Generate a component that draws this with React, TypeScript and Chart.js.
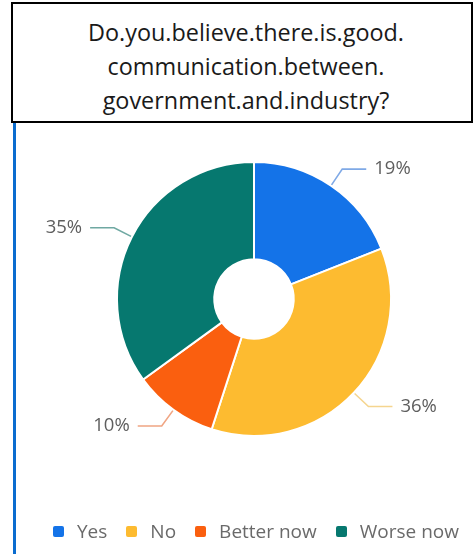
import React, { useEffect, useRef } from "react";
import { Chart, registerables } from "chart.js";

Chart.register(...registerables);

const titleLines = ["Do.you.believe.there.is.good.", "communication.between.", "government.and.industry?"];
const categories = ["Yes", "No", "Better now", "Worse now"];
const values = [19, 36, 10, 35];
const colors = ["#1473E8", "#FDBB30", "#FA5F0F", "#06786F"];
const lineColors = ["#7FA9E6", "#F5D58F", "#F0A583", "#6FA8A2"];

const leaderPlugin = {
  id: "leaders",
  afterDatasetsDraw(chart: any) {
    const ctx = chart.ctx;
    const meta = chart.getDatasetMeta(0);
    ctx.save();
    meta.data.forEach((arc: any, i: number) => {
      const { x, y, startAngle, endAngle, outerRadius } = arc.getProps(
        ["x", "y", "startAngle", "endAngle", "outerRadius"],
        true
      );
      const a = (startAngle + endAngle) / 2;
      const c = Math.cos(a);
      const s = Math.sin(a);
      const x0 = x + (outerRadius + 1) * c;
      const y0 = y + (outerRadius + 1) * s;
      const x1 = x + (outerRadius + 20) * c;
      const y1 = y + (outerRadius + 20) * s;
      const dir = c >= 0 ? 1 : -1;
      const x2 = x1 + dir * 24;
      ctx.strokeStyle = lineColors[i];
      ctx.lineWidth = 1.6;
      ctx.beginPath();
      ctx.moveTo(x0, y0);
      ctx.lineTo(x1, y1);
      ctx.lineTo(x2, y1);
      ctx.stroke();
      ctx.fillStyle = "#5e5e5e";
      ctx.font = "18.5px 'Open Sans'";
      ctx.textBaseline = "middle";
      ctx.textAlign = dir > 0 ? "left" : "right";
      ctx.fillText(values[i] + "%", x2 + dir * 8, y1);
    });
    ctx.restore();
  },
};

export default function App() {
  const ref = useRef<HTMLCanvasElement | null>(null);

  useEffect(() => {
    if (!ref.current) return;
    const chart = new Chart(ref.current, {
      type: "doughnut",
      data: {
        labels: categories,
        datasets: [
          {
            data: values,
            backgroundColor: colors,
            borderColor: "#ffffff",
            borderWidth: 2,
            hoverOffset: 0,
          },
        ],
      },
      options: {
        responsive: false,
        animation: false,
        cutout: "29%",
        layout: { padding: { left: 101, top: 39, right: 83, bottom: 117 } },
        plugins: {
          legend: { display: false },
          tooltip: { enabled: false },
        },
      },
      plugins: [leaderPlugin],
    });
    return () => chart.destroy();
  }, []);

  return (
    <div
      style={{
        position: "fixed",
        left: 0,
        top: 0,
        width: 475,
        height: 554,
        background: "#ffffff",
        overflow: "hidden",
        fontFamily: "'Open Sans', sans-serif",
      }}
    >
      <div
        style={{
          position: "absolute",
          left: 11,
          top: 2,
          width: 462,
          height: 121,
          boxSizing: "border-box",
          border: "2px solid #000",
          overflow: "hidden",
          paddingTop: 11,
          paddingLeft: 8,
          textAlign: "center",
          fontSize: 23.4,
          lineHeight: "34px",
          color: "#1a1a1a",
        }}
      >
        {titleLines.map((t) => (
          <div key={t}>{t}</div>
        ))}
      </div>
      <div
        style={{
          position: "absolute",
          left: 13,
          top: 123,
          width: 2.5,
          height: 431,
          background: "#0A6CCF",
        }}
      />
      <div style={{ position: "absolute", left: 15, top: 122, width: 460, height: 432 }}>
        <canvas ref={ref} width={460} height={432} style={{ display: "block" }} />
      </div>
      <div
        style={{
          position: "absolute",
          left: 53,
          top: 518,
          height: 26,
          display: "flex",
          alignItems: "center",
          fontSize: 19,
          color: "#6a6a6a",
          whiteSpace: "nowrap",
        }}
      >
        {categories.map((c, i) => (
          <div key={c} style={{ display: "flex", alignItems: "center", marginRight: 19 }}>
            <span
              style={{
                display: "inline-block",
                width: 11,
                height: 11,
                borderRadius: 2,
                background: colors[i],
                marginRight: 13,
              }}
            />
            <span>{c}</span>
          </div>
        ))}
      </div>
    </div>
  );
}
